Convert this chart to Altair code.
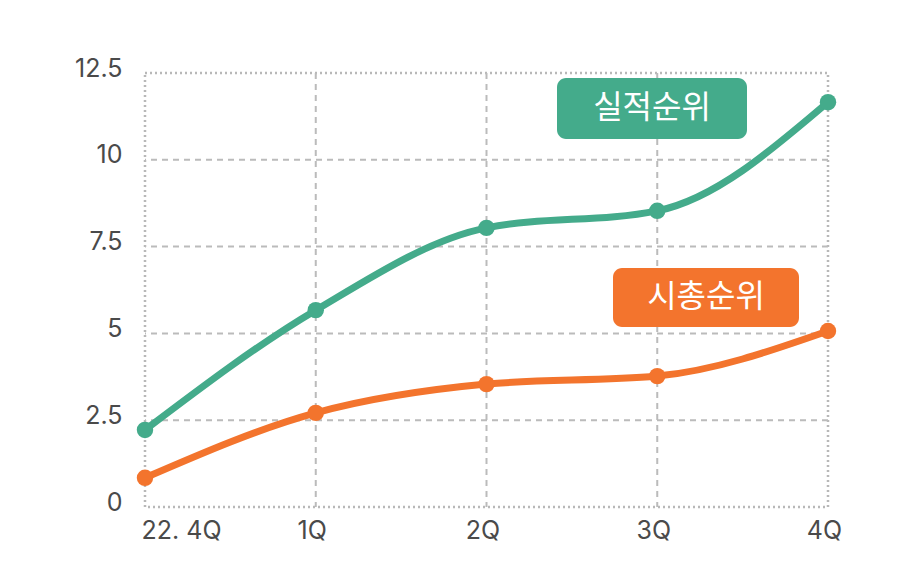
import altair as alt
import pandas as pd

quarters = ["22. 4Q", "1Q", "2Q", "3Q", "4Q"]
perf_rank = [2.22, 5.67, 8.04, 8.53, 11.66]     # 실적순위
mcap_rank = [0.84, 2.71, 3.54, 3.77, 5.07]      # 시총순위
series_names = ["실적순위", "시총순위"]
series_colors = ["#44AB8B", "#F3742D"]
y_ticks = [0, 2.5, 5, 7.5, 10, 12.5]
x_grid = [1, 2, 3]
y_grid = [2.5, 5, 7.5, 10]

FONT = "Inter"
KFONT = "Noto Sans CJK KR"

rows = []
for i, q in enumerate(quarters):
    rows.append({"idx": i, "q": q, "series": series_names[0], "v": perf_rank[i]})
    rows.append({"idx": i, "q": q, "series": series_names[1], "v": mcap_rank[i]})
df = pd.DataFrame(rows)

label_arr = "[" + ",".join("'" + q + "'" for q in quarters) + "]"

xscale = alt.Scale(domain=[0, 4], nice=False, zero=False)
yscale = alt.Scale(domain=[0, 12.5], nice=False)
color = alt.Color("series:N", scale=alt.Scale(domain=series_names, range=series_colors), legend=None)

base = alt.Chart(df)

axes = base.mark_point(opacity=0).encode(
    x=alt.X("idx:Q", scale=xscale,
            axis=alt.Axis(values=list(range(len(quarters))), title=None, grid=False, domain=False, ticks=False,
                          labelExpr=label_arr + "[datum.value]",
                          labelAlign={"condition": {"test": "datum.value == 0", "value": "left"}, "value": "center"},
                          labelOffset=-4,
                          labelFontSize=25, labelColor="#4A4A4A", labelFont=FONT, labelPadding=11,
                          labelFlush=False, labelOverlap=False)),
    y=alt.Y("v:Q", scale=yscale,
            axis=alt.Axis(values=y_ticks, title=None, grid=False, domain=False, ticks=False,
                          labelExpr="'' + datum.value", labelFontSize=25, labelColor="#4A4A4A",
                          labelFont=FONT, labelPadding=23, labelOffset=-5, labelFlush=False, labelOverlap=False)),
)

vgrid = alt.Chart(pd.DataFrame({"g": x_grid})).mark_rule(
    color="#BBBBBB", strokeWidth=2, strokeDash=[6, 5]
).encode(x=alt.X("g:Q", scale=xscale))

hgrid = alt.Chart(pd.DataFrame({"g": y_grid})).mark_rule(
    color="#BBBBBB", strokeWidth=2, strokeDash=[6, 5]
).encode(y=alt.Y("g:Q", scale=yscale))

lines = base.mark_line(interpolate="monotone", strokeWidth=7).encode(
    x=alt.X("idx:Q", scale=xscale), y=alt.Y("v:Q", scale=yscale), color=color, detail="series:N")

pts = base.mark_circle(size=270, opacity=1).encode(
    x=alt.X("idx:Q", scale=xscale), y=alt.Y("v:Q", scale=yscale), color=color)

lab_df = pd.DataFrame({"label": series_names})
green_box = alt.Chart(lab_df.iloc[[0]]).mark_rect(color=series_colors[0], cornerRadius=9).encode(
    x=alt.value(412), x2=alt.value(602), y=alt.value(5), y2=alt.value(66))
green_txt = alt.Chart(lab_df.iloc[[0]]).mark_text(color="white", fontSize=32, font=KFONT, baseline="middle",
                                                  align="center").encode(
    text="label:N", x=alt.value(507), y=alt.value(35))
orange_box = alt.Chart(lab_df.iloc[[1]]).mark_rect(color=series_colors[1], cornerRadius=9).encode(
    x=alt.value(468), x2=alt.value(654), y=alt.value(195), y2=alt.value(254))
orange_txt = alt.Chart(lab_df.iloc[[1]]).mark_text(color="white", fontSize=32, font=KFONT, baseline="middle",
                                                   align="center").encode(
    text="label:N", x=alt.value(561), y=alt.value(224))

chart = alt.layer(axes, vgrid, hgrid, lines, pts, green_box, green_txt, orange_box, orange_txt).properties(
    width=683, height=434,
    padding={"left": 145, "top": 73, "right": 96, "bottom": 81},
    autosize=alt.AutoSizeParams(type="none"),
    background="white",
).configure_view(
    stroke="#B8B8B8", strokeWidth=2.5, strokeDash=[2, 3]
)

chart.save("out.html", embed_options={"renderer": "svg", "actions": False})
